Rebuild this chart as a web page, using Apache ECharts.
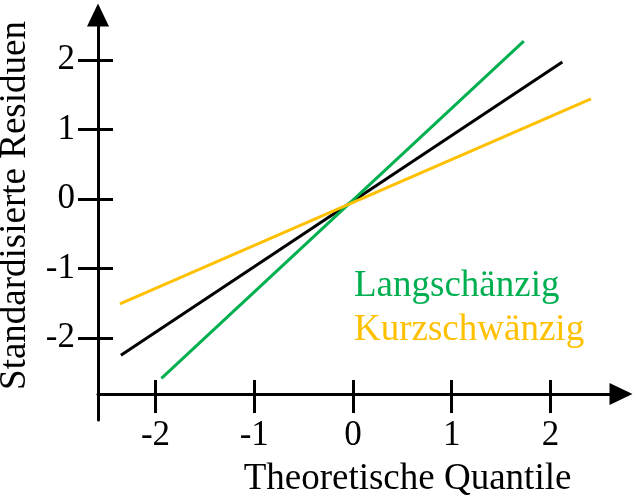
<!DOCTYPE html>
<html>
<head>
<meta charset="utf-8">
<script src="https://cdn.jsdelivr.net/npm/echarts@6/dist/echarts.min.js"></script>
<style>
    html, body { margin: 0; padding: 0; background: #fff; }
    #chart { width: 636px; height: 504px; }
</style>
</head>
<body>
<div id="chart"></div>
<script>
    // Werte
    var xTicks = [-2, -1, 0, 1, 2];
    var yTicks = [-2, -1, 0, 1, 2];
    var lineNames = ['Normal', 'Langschänzig', 'Kurzschwänzig'];
    var normalLine = [[-2.35, -2.25], [2.12, 1.97]];
    var longTail = [[-1.94, -2.58], [1.73, 2.27]];
    var shortTail = [[-2.36, -1.51], [2.41, 1.44]];

    var font = 'Liberation Serif';
    var green = '#00b050';
    var orange = '#ffc000';

    var myChart = echarts.init(document.getElementById('chart'));

    var xRange = {min: -2.582, max: 2.714};
    var yRange = {min: -3.18, max: 2.647};

    var option = {
        animation: false,
        backgroundColor: '#fff',
        grid: {left: 98, right: 15, top: 15, bottom: 84, outerBoundsMode: 'none', containLabel: false},
        legend: {
            orient: 'vertical',
            left: 349,
            top: 268,
            padding: 0,
            itemGap: 7,
            itemWidth: 0,
            itemHeight: 0,
            icon: 'none',
            textStyle: {fontFamily: font, fontSize: 37},
            data: [
                {name: lineNames[1], textStyle: {color: green}},
                {name: lineNames[2], textStyle: {color: orange}}
            ]
        },
        xAxis: [
            {
                type: 'value',
                position: 'bottom',
                min: xRange.min,
                max: xRange.max,
                offset: -26,
                name: 'Theoretische Quantile',
                nameLocation: 'middle',
                nameGap: 67,
                nameTextStyle: {fontFamily: font, fontSize: 37, color: '#000', padding: [0, 0, 0, 96]},
                splitLine: {show: false},
                axisLine: {
                    onZero: false,
                    lineStyle: {color: '#000', width: 3},
                    symbol: ['none', 'triangle'],
                    symbolSize: [22, 23]
                },
                axisTick: {customValues: xTicks, length: 19, lineStyle: {color: '#000', width: 3}},
                axisLabel: {customValues: xTicks, margin: 24, fontFamily: font, fontSize: 35, color: '#000'}
            },
            {
                type: 'value',
                position: 'bottom',
                min: xRange.min,
                max: xRange.max,
                offset: -26,
                splitLine: {show: false},
                axisLine: {show: false, onZero: false},
                axisTick: {customValues: xTicks, inside: true, length: 14, lineStyle: {color: '#000', width: 3}},
                axisLabel: {show: false}
            }
        ],
        yAxis: [
            {
                type: 'value',
                position: 'left',
                min: yRange.min,
                max: yRange.max,
                name: 'Standardisierte Residuen',
                nameLocation: 'middle',
                nameGap: 64,
                nameTextStyle: {fontFamily: font, fontSize: 37, color: '#000', padding: [0, 0, 0, 24]},
                splitLine: {show: false},
                axisLine: {
                    onZero: false,
                    lineStyle: {color: '#000', width: 3},
                    symbol: ['none', 'triangle'],
                    symbolSize: [22, 23]
                },
                axisTick: {customValues: yTicks, length: 20, lineStyle: {color: '#000', width: 3}},
                axisLabel: {customValues: yTicks, margin: 23, fontFamily: font, fontSize: 35, color: '#000'}
            },
            {
                type: 'value',
                position: 'left',
                min: yRange.min,
                max: yRange.max,
                splitLine: {show: false},
                axisLine: {show: false, onZero: false},
                axisTick: {customValues: yTicks, inside: true, length: 15, lineStyle: {color: '#000', width: 3}},
                axisLabel: {show: false}
            }
        ],
        series: [
            {
                name: lineNames[0],
                type: 'line',
                showSymbol: false,
                lineStyle: {color: '#000', width: 3},
                data: normalLine
            },
            {
                name: lineNames[1],
                type: 'line',
                showSymbol: false,
                lineStyle: {color: green, width: 3},
                itemStyle: {color: green},
                data: longTail
            },
            {
                name: lineNames[2],
                type: 'line',
                showSymbol: false,
                lineStyle: {color: orange, width: 3},
                itemStyle: {color: orange},
                data: shortTail
            }
        ]
    };

    myChart.setOption(option);
</script>
</body>
</html>
